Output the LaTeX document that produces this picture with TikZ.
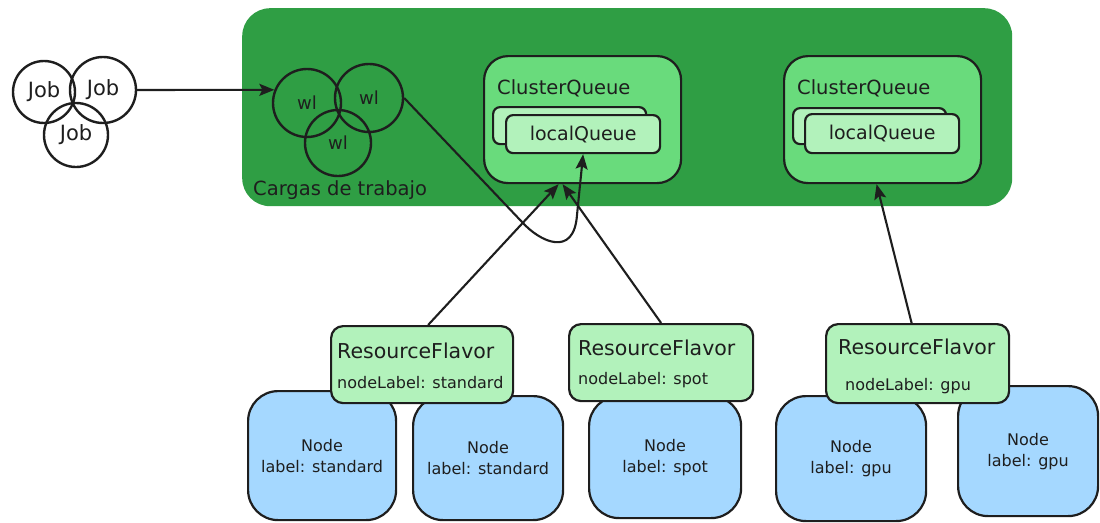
\documentclass[tikz,border=0pt]{standalone}
\usepackage{fontspec}
\setmainfont{DejaVu Sans}
\usetikzlibrary{arrows.meta}
\definecolor{ink}{HTML}{1E1E1E}
\definecolor{areagreen}{HTML}{2F9E44}
\definecolor{cqgreen}{HTML}{69DB7C}
\definecolor{palegreen}{HTML}{B2F2BB}
\definecolor{nodeblue}{HTML}{A5D8FF}

\begin{document}
\begin{tikzpicture}[x=1pt,y=-1pt,
  outline/.style={draw=ink, line width=2.2pt},
  area/.style={fill=areagreen, rounded corners=28pt, anchor=north west, inner sep=0pt},
  cqbox/.style={outline, fill=cqgreen, rounded corners=24pt, anchor=north west, inner sep=0pt},
  lqbox/.style={outline, fill=palegreen, rounded corners=7pt, anchor=north west, inner sep=0pt,
    text=ink, font=\fontsize{19}{22}\selectfont},
  rfbox/.style={outline, fill=palegreen, rounded corners=12pt, anchor=north west, inner sep=0pt},
  hostbox/.style={outline, fill=nodeblue, rounded corners=30pt, anchor=north west, inner sep=0pt,
    text=ink, align=center, font=\fontsize{16}{21}\selectfont},
  ring/.style={outline, line width=2.4pt, circle, inner sep=0pt, text=ink},
  lbl/.style={text=ink, inner sep=0pt, anchor=west},
  conn/.style={draw=ink, line width=2.1pt, -{Stealth[length=15pt,width=12pt,inset=3pt]}},
]
\useasboundingbox (0,0) rectangle (1100,522);

% workload area
\node[area, minimum width=770pt, minimum height=198pt] (area) at (242,8) {};
\node[lbl, font=\fontsize{19.5}{22}\selectfont] (areatitle) at (253,190) {Cargas de trabajo};

% cluster queues with their local queues
\node[cqbox, minimum width=197pt, minimum height=127pt] (cq1) at (483,55) {};
\node[cqbox, minimum width=197pt, minimum height=127pt] (cq2) at (783,55) {};
\node[lbl, font=\fontsize{19.5}{22}\selectfont] (cq1t) at (497,88) {ClusterQueue};
\node[lbl, font=\fontsize{19.5}{22}\selectfont] (cq2t) at (797,88) {ClusterQueue};

\node[lqbox, minimum width=153pt, minimum height=37pt] (lq1b) at (492,106) {};
\node[lqbox, minimum width=154pt, minimum height=38pt] (lq1) at (505,114) {localQueue};
\node[lqbox, minimum width=153pt, minimum height=36pt] (lq2b) at (792,107) {};
\node[lqbox, minimum width=154pt, minimum height=39pt] (lq2) at (804,113) {localQueue};

% jobs
\node[ring, minimum size=62pt, font=\fontsize{21}{22}\selectfont] (j1) at (44,92) {Job};
\node[ring, minimum size=66pt, font=\fontsize{21}{22}\selectfont] (j2) at (103,90) {Job};
\node[ring, minimum size=64pt, font=\fontsize{21}{22}\selectfont] (j3) at (76,135) {Job};

% workloads
\node[ring, minimum size=68pt, font=\fontsize{18}{20}\selectfont] (wl1) at (307,103) {wl};
\node[ring, minimum size=68pt, font=\fontsize{18}{20}\selectfont] (wl2) at (369,98) {wl};
\node[ring, minimum size=66pt, font=\fontsize{18}{20}\selectfont] (wl3) at (338,143) {wl};

% worker nodes
\node[hostbox, minimum width=148pt, minimum height=129pt] (n1) at (247,390) {Node\\label: standard};
\node[hostbox, minimum width=150pt, minimum height=124pt] (n2) at (412,395) {Node\\label: standard};
\node[hostbox, minimum width=152pt, minimum height=122pt] (n3) at (588,395) {Node\\label: spot};
\node[hostbox, minimum width=150pt, minimum height=125pt] (n4) at (775,395) {Node\\label: gpu};
\node[hostbox, minimum width=140pt, minimum height=130pt] (n5) at (957,385) {Node\\label: gpu};

% resource flavors
\node[rfbox, minimum width=182pt, minimum height=77pt] (rf1) at (330,325) {};
\node[rfbox, minimum width=184pt, minimum height=77pt] (rf2) at (568,323) {};
\node[rfbox, minimum width=183pt, minimum height=79pt] (rf3) at (825,323) {};
\node[lbl, font=\fontsize{20.5}{22}\selectfont] (rf1a) at (337,351) {ResourceFlavor};
\node[lbl, font=\fontsize{16}{18}\selectfont] (rf1b) at (337,383) {nodeLabel: standard};
\node[lbl, font=\fontsize{20.5}{22}\selectfont] (rf2a) at (578,348) {ResourceFlavor};
\node[lbl, font=\fontsize{16}{18}\selectfont] (rf2b) at (578,380) {nodeLabel: spot};
\node[lbl, font=\fontsize{20.5}{22}\selectfont] (rf3a) at (838,347) {ResourceFlavor};
\node[lbl, font=\fontsize{16}{18}\selectfont] (rf3b) at (845,386) {nodeLabel: gpu};

% connectors
\draw[conn] (j2.east) -- (wl1.158);
\draw[conn] (wl2.east) -- (522,222) .. controls (540,242) and (574,258) .. (577,215) -- (lq1.south);
\draw[conn] ([xshift=6pt]rf1.north) -- ([xshift=-24pt]cq1.south);
\draw[conn] (rf2.north) -- ([xshift=-20pt]cq1.south);
\draw[conn] ([xshift=-6pt]rf3.north) -- ([xshift=-6pt]cq2.south);
\end{tikzpicture}
\end{document}
